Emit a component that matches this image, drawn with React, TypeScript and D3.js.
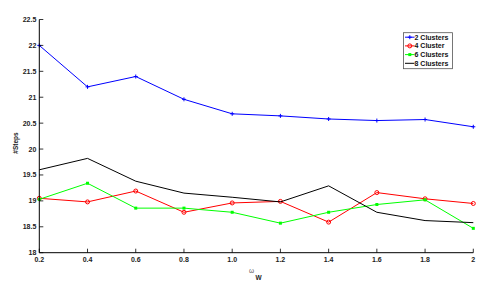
import React from "react";
import * as d3 from "d3";

const omega = [0.2, 0.4, 0.6, 0.8, 1.0, 1.2, 1.4, 1.6, 1.8, 2.0];
const clusters2 = [22.0, 21.2, 21.4, 20.96, 20.68, 20.64, 20.58, 20.55, 20.57, 20.43];
const clusters4 = [19.05, 18.98, 19.19, 18.78, 18.96, 18.99, 18.59, 19.16, 19.04, 18.95];
const clusters6 = [19.03, 19.34, 18.86, 18.86, 18.78, 18.57, 18.78, 18.93, 19.02, 18.47];
const clusters8 = [19.6, 19.82, 19.38, 19.15, 19.07, 18.98, 19.29, 18.78, 18.62, 18.58];
const xTickLabels = ["0.2", "0.4", "0.6", "0.8", "1.0", "1.2", "1.4", "1.6", "1.8", "2"];
const yTicks = [18, 18.5, 19, 19.5, 20, 20.5, 21, 21.5, 22, 22.5];

const series = [
  { name: "2 Clusters", values: clusters2, color: "#0000ff", marker: "plus" },
  { name: "4 Cluster", values: clusters4, color: "#ff0000", marker: "circle" },
  { name: "6 Clusters", values: clusters6, color: "#00ff00", marker: "dot" },
  { name: "8 Clusters", values: clusters8, color: "#000000", marker: "none" },
];

const W = 495;
const H = 289;
const left = 39.3;
const right = 473.3;
const top = 19.5;
const bottom = 252.7;

const x = d3.scaleLinear().domain([0.2, 2]).range([left, right]);
const y = d3.scaleLinear().domain([18, 22.5]).range([bottom, top]);

const font = "'Liberation Sans', Arial, sans-serif";

function Marker({ kind, cx, cy, color }: { kind: string; cx: number; cy: number; color: string }) {
  if (kind === "plus")
    return (
      <path
        d={`M${cx - 2},${cy}H${cx + 2}M${cx},${cy - 2}V${cy + 2}`}
        stroke={color}
        strokeWidth={1}
      />
    );
  if (kind === "circle")
    return <circle cx={cx} cy={cy} r={2} fill="none" stroke={color} strokeWidth={1} />;
  if (kind === "dot") return <rect x={cx - 1.5} y={cy - 1.5} width={3} height={3} fill={color} />;
  return null;
}

export default function App() {
  const line = d3
    .line<number>()
    .x((_, i) => x(omega[i]))
    .y((d) => y(d));

  const legendX = 403.5;
  const legendY = 32.7;

  return (
    <svg
      width={W}
      height={H}
      style={{ position: "absolute", left: 0, top: 0, background: "#fff" }}
      fontFamily={font}
    >
      {/* data */}
      {series.map((s) => (
        <g key={s.name}>
          <path d={line(s.values) || ""} fill="none" stroke={s.color} strokeWidth={1} />
          {s.values.map((v, i) => (
            <Marker key={i} kind={s.marker} cx={x(omega[i])} cy={y(v)} color={s.color} />
          ))}
        </g>
      ))}

      {/* axes */}
      <path d={`M${left},${top}V${bottom}H${right}`} fill="none" stroke="#000" strokeWidth={1} />
      {omega.map((o, i) => (
        <g key={o}>
          <line x1={x(o)} x2={x(o)} y1={bottom} y2={bottom - 4} stroke="#000" strokeWidth={0.8} />
          <text
            x={x(o)}
            y={bottom + 9}
            textAnchor="middle"
            fontSize={7}
            fontWeight="bold"
            fill="#222"
          >
            {xTickLabels[i]}
          </text>
        </g>
      ))}
      {yTicks.map((t) => (
        <g key={t}>
          <line x1={left} x2={left + 4} y1={y(t)} y2={y(t)} stroke="#000" strokeWidth={0.8} />
          <text
            x={left - 3}
            y={y(t) + 2.5}
            textAnchor="end"
            fontSize={7}
            fontWeight="bold"
            fill="#222"
          >
            {t}
          </text>
        </g>
      ))}

      <text
        transform={`translate(18,143) rotate(-90)`}
        textAnchor="middle"
        fontSize={6.5}
        fontWeight="bold"
        fill="#222"
      >
        #Steps
      </text>
      <text x={249} y={273} fontSize={6.5} fill="#555">
        ω
      </text>
      <text x={255.5} y={280} fontSize={6.5} fontWeight="bold" fill="#222">
        W
      </text>

      {/* legend */}
      <rect
        x={legendX}
        y={legendY}
        width={49}
        height={36}
        fill="#fff"
        stroke="#555"
        strokeWidth={0.8}
      />
      {series.map((s, i) => {
        const ly = legendY + 4.5 + i * 8.7;
        return (
          <g key={s.name}>
            <line x1={legendX + 1.5} x2={legendX + 11} y1={ly} y2={ly} stroke={s.color} strokeWidth={1} />
            <Marker kind={s.marker} cx={legendX + 6.3} cy={ly} color={s.color} />
            <text x={legendX + 11} y={ly + 2.5} fontSize={7} fontWeight="bold" fill="#111">
              {s.name}
            </text>
          </g>
        );
      })}
    </svg>
  );
}
